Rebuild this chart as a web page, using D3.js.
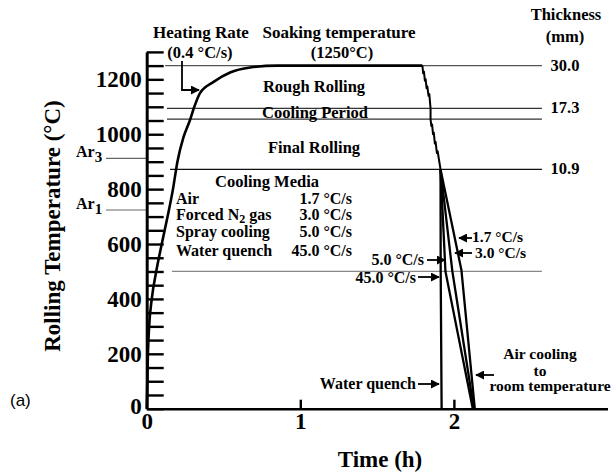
<!DOCTYPE html>
<html>
<head>
<meta charset="utf-8">
<script src="https://cdn.jsdelivr.net/npm/d3@7"></script>
<style>
  body { margin: 0; background: #fff; }
  svg text { font-family: "Liberation Serif", "Times New Roman", serif; font-weight: bold; fill: #000; }
</style>
</head>
<body>
<svg id="chart" width="616" height="473"></svg>
<script>
// Heating + soaking (smooth part)
const heatTime = [0, 0.004, 0.008, 0.016, 0.033, 0.062, 0.098, 0.136, 0.171, 0.2, 0.24, 0.282, 0.31, 0.347, 0.433, 0.543, 0.674, 0.85, 1.795];
const heatTemp = [0, 100, 200, 300, 400, 500, 600, 700, 800, 900, 990, 1052, 1100, 1150, 1190, 1225, 1243, 1250, 1250];

// Rough rolling passes, holding, final rolling passes
const rollTime = [1.795, 1.800, 1.805, 1.811, 1.816, 1.822, 1.827, 1.835, 1.840, 1.848,
    1.848, 1.853, 1.858, 1.864, 1.869, 1.876, 1.881, 1.889, 1.894, 1.913];
const rollTemp = [1250, 1222, 1228, 1195, 1201, 1168, 1174, 1140, 1146, 1094,
    1055, 1030, 1036, 1000, 1006, 966, 972, 932, 938, 872];

// Cooling after finish rolling (rates in deg C/s)
const coolingRates = ['1.7', '3.0', '5.0', '45.0'];
const coolingTime = [
    [1.913, 2.049, 2.136],
    [1.913, 1.990, 2.130],
    [1.913, 1.945, 2.123],
    [1.913, 1.914, 1.920]
];
const coolingTemp = [
    [872, 505, 0],
    [872, 500, 0],
    [872, 500, 0],
    [872, 500, 0]
];

// Horizontal reference lines
const refTemps = [1250, 1094, 1055, 872, 500];
const refStart = [0.12, 0.132, 0.132, 0.152, 0.164];
const refColors = ['#555', '#333', '#333', '#111', '#888'];
const refEnd = 2.573;

const arTemps = [912, 724];
const arLabels = ['3', '1'];

const thicknessLabels = ['30.0', '17.3', '10.9'];
const thicknessTemps = [1250, 1094, 872];

const mediaNames = ['Air', 'Forced N', 'Spray cooling', 'Water quench'];
const mediaRates = ['1.7 °C/s', '3.0 °C/s', '5.0 °C/s', '45.0 °C/s'];

const yMajor = d3.range(0, 1201, 200);
const yMinor = d3.range(0, 1301, 50);
const xLabels = [0, 1, 2];
const xTicks = [1, 2];

const svg = d3.select('#chart');
const x = d3.scaleLinear().domain([0, 3]).range([146.7, 607.5]);
const y = d3.scaleLinear().domain([0, 1300]).range([408.7, 51.9]);

// Reference lines
refTemps.forEach((t, i) => {
    svg.append('line')
        .attr('x1', x(refStart[i])).attr('x2', x(refEnd))
        .attr('y1', y(t)).attr('y2', y(t))
        .attr('stroke', refColors[i]).attr('stroke-width', 1.2);
});

// Ar lines left of axis
arTemps.forEach((t, i) => {
    svg.append('line')
        .attr('x1', x(-0.265)).attr('x2', x(0))
        .attr('y1', y(t)).attr('y2', y(t))
        .attr('stroke', '#666').attr('stroke-width', 1.2);
    const tx = svg.append('text').attr('x', 76).attr('y', y(t) - 1).style('font-size', '16px');
    tx.append('tspan').text('Ar');
    tx.append('tspan').attr('dy', 5).style('font-size', '15px').text(arLabels[i]);
});

// Axes
const yMinorAxis = d3.axisLeft(y).tickValues(yMinor).tickSizeInner(-17).tickSizeOuter(0).tickFormat('');
const gMinor = svg.append('g').attr('transform', `translate(${x(0)},0)`).call(yMinorAxis);
gMinor.selectAll('line').attr('stroke', '#000').attr('stroke-width', 2.4);
gMinor.select('.domain').attr('stroke', '#000').attr('stroke-width', 3);

const yLabelAxis = d3.axisLeft(y).tickValues(yMajor).tickSize(0).tickPadding(5).tickFormat(d3.format('d'));
const gLab = svg.append('g').attr('transform', `translate(${x(0)},0)`).call(yLabelAxis);
gLab.select('.domain').remove();
gLab.selectAll('text').style('font-family', '"Liberation Serif", serif').style('font-weight', 'bold').style('font-size', '23px').attr('fill', '#000');
gLab.selectAll('.tick').filter(d => d === 0).select('text').attr('dy', '0.2em');

const xAxis = d3.axisBottom(x).tickValues(xTicks).tickSizeInner(-9).tickSizeOuter(0).tickFormat('');
const gX = svg.append('g').attr('transform', `translate(0,${y(0)})`).call(xAxis);
gX.selectAll('line').attr('stroke', '#000').attr('stroke-width', 2.4);
gX.select('.domain').attr('stroke', '#000').attr('stroke-width', 2.6);

const xLabAxis = d3.axisBottom(x).tickValues(xLabels).tickSize(0).tickPadding(4).tickFormat(d3.format('d'));
const gXL = svg.append('g').attr('transform', `translate(0,${y(0)})`).call(xLabAxis);
gXL.select('.domain').remove();
gXL.selectAll('text').style('font-family', '"Liberation Serif", serif').style('font-weight', 'bold').style('font-size', '23px').attr('fill', '#000');

// Axis titles
svg.append('text').attr('x', 380).attr('y', 467).attr('text-anchor', 'middle').style('font-size', '23px').text('Time (h)');
svg.append('text').attr('transform', 'translate(60,226) rotate(-90)').attr('text-anchor', 'middle').style('font-size', '23px')
    .text('Rolling Temperature (°C)');
svg.append('text').attr('x', 10).attr('y', 406).style('font-family', '"Liberation Sans", Arial, sans-serif')
    .style('font-weight', 'normal').style('font-size', '17px').text('(a)');

// Curves
const smooth = d3.line().curve(d3.curveMonotoneX).x(d => x(d[0])).y(d => y(d[1]));
const straight = d3.line().x(d => x(d[0])).y(d => y(d[1]));
svg.append('path')
    .datum(heatTime.map((t, i) => [t, heatTemp[i]]))
    .attr('d', smooth).attr('fill', 'none').attr('stroke', '#000').attr('stroke-width', 2.6);
svg.append('path')
    .datum(rollTime.map((t, i) => [t, rollTemp[i]]))
    .attr('d', straight).attr('fill', 'none').attr('stroke', '#000').attr('stroke-width', 2).attr('stroke-linejoin', 'round');

coolingRates.forEach((r, k) => {
    svg.append('path')
        .datum(coolingTime[k].map((t, i) => [t, coolingTemp[k][i]]))
        .attr('d', straight).attr('fill', 'none').attr('stroke', '#000').attr('stroke-width', 2.3);
});

// Arrow marker
svg.append('defs').append('marker')
    .attr('id', 'arr').attr('viewBox', '0 0 10 10').attr('refX', 9).attr('refY', 5)
    .attr('markerWidth', 5).attr('markerHeight', 5).attr('orient', 'auto')
    .append('path').attr('d', 'M0,0L10,5L0,10z').attr('fill', '#000');

function arrow(pts) {
    svg.append('path').attr('d', d3.line()(pts)).attr('fill', 'none')
        .attr('stroke', '#000').attr('stroke-width', 1.8).attr('marker-end', 'url(#arr)');
}

// Labels
function label(txt, px, py, size, anchor) {
    return svg.append('text').attr('x', px).attr('y', py).attr('text-anchor', anchor || 'start')
        .style('font-size', (size || 16) + 'px').text(txt);
}

label('Heating Rate', 201, 38, 17, 'middle');
label('(0.4 °C/s)', 200, 58, 16.5, 'middle');
arrow([[182, 61], [182, 90], [199, 90]]);
label('Soaking temperature', 339, 38, 17, 'middle');
label('(1250°C)', 342, 58, 16.5, 'middle');
label('Thickness', 566, 20, 16.5, 'middle');
label('(mm)', 565, 42, 16.5, 'middle');
thicknessLabels.forEach((t, i) => label(t, 565, y(thicknessTemps[i]) + 5, 16.5, 'middle'));

label('Rough Rolling', 314, 92, 16.5, 'middle');
label('Cooling Period', 315, 118, 16.5, 'middle');
label('Final Rolling', 314, 153, 16.5, 'middle');
label('Cooling Media', 267, 187, 16.5, 'middle');

const mediaY = [204, 220, 237, 256];
mediaNames.forEach((m, i) => {
    const t = label(m, 176, mediaY[i], 16);
    if (i === 1) {
        t.append('tspan').attr('dy', 2.5).style('font-size', '12px').text('2');
        t.append('tspan').attr('dy', -2.5).text(' gas');
    }
    label(mediaRates[i], 352, mediaY[i], 16, 'end');
});

// Cooling rate call-outs
label('1.7 °C/s', 472, 242, 15.5);
arrow([[472, 238], [459, 238]]);
label('3.0 °C/s', 475, 258, 15.5);
arrow([[472, 253], [455, 253]]);
label('5.0 °C/s', 424, 265, 16, 'end');
arrow([[427, 260], [445, 260]]);
label('45.0 °C/s', 416, 283, 16, 'end');
arrow([[418, 277], [439, 277]]);
label('Water quench', 416, 389, 16, 'end');
arrow([[418, 384], [439, 384]]);

label('Air cooling', 540, 359, 15.5, 'middle');
label('to', 540, 376, 15.5, 'middle');
label('room temperature', 550, 391, 15.5, 'middle');
arrow([[494, 375], [476, 375]]);
</script>
</body>
</html>
